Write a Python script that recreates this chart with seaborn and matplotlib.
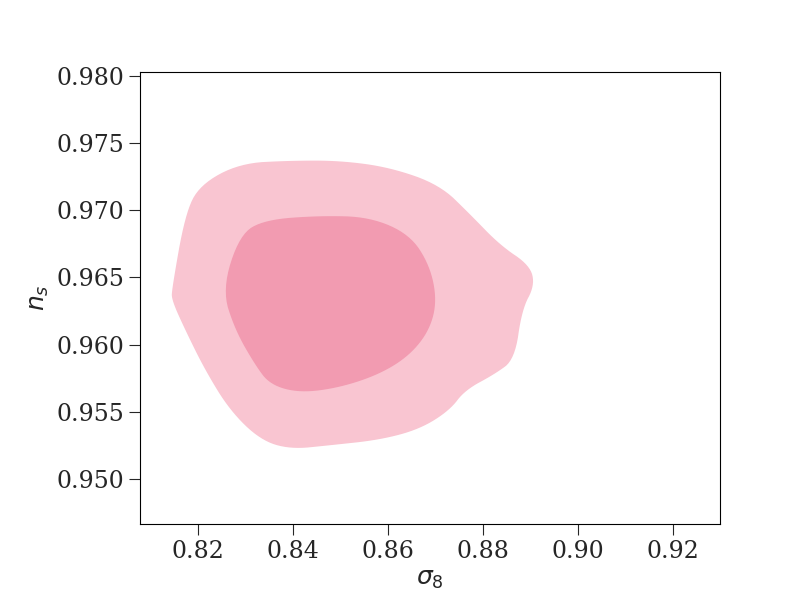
import numpy as np
import matplotlib
matplotlib.use("Agg")
import matplotlib.pyplot as plt
import seaborn as sns

# contour boundaries (sigma_8, n_s)
outer_sigma8 = [0.8145, 0.8173, 0.8204, 0.8288, 0.8394, 0.8499, 0.8604, 0.8709, 0.8773,
                0.8836, 0.8899, 0.8909, 0.8882, 0.8867, 0.8825, 0.8762, 0.8730, 0.8667,
                0.8583, 0.8478, 0.8394, 0.8331, 0.8267, 0.8215, 0.8173, 0.8145]
outer_ns = [0.9641, 0.9697, 0.9719, 0.9735, 0.9737, 0.9737, 0.9732, 0.9719, 0.9697,
            0.9674, 0.9659, 0.9644, 0.9626, 0.9589, 0.9578, 0.9566, 0.9551, 0.9537,
            0.9529, 0.9525, 0.9522, 0.9529, 0.9551, 0.9581, 0.9611, 0.9633]
inner_sigma8 = [0.8251, 0.8288, 0.8341, 0.8457, 0.8562, 0.8646, 0.8688, 0.8703,
                0.8688, 0.8646, 0.8583, 0.8499, 0.8415, 0.8352, 0.8320, 0.8278]
inner_ns = [0.9641, 0.9682, 0.9693, 0.9696, 0.9695, 0.9682, 0.9659, 0.9633,
            0.9611, 0.9592, 0.9578, 0.9568, 0.9564, 0.9570, 0.9585, 0.9611]


def smooth(x, y, n=3):
    # Chaikin corner cutting on a closed polygon
    pts = np.column_stack([x, y])
    for _ in range(n):
        nxt = np.roll(pts, -1, axis=0)
        q = 0.75 * pts + 0.25 * nxt
        r = 0.25 * pts + 0.75 * nxt
        pts = np.empty((2 * len(q), 2))
        pts[0::2], pts[1::2] = q, r
    return pts[:, 0], pts[:, 1]


sns.set_style("white")
plt.rcParams['font.family'] = ['DejaVu Serif']
fig, ax = plt.subplots(figsize=(8, 6), dpi=100)
fig.subplots_adjust(left=0.175, right=0.9, bottom=0.127, top=0.88)

ax.fill(*smooth(outer_sigma8, outer_ns), color='#f9c5d1', lw=0)
ax.fill(*smooth(inner_sigma8, inner_ns), color='#f29bb1', lw=0)

ax.set_xlim(0.8078, 0.9299)
ax.set_ylim(0.94665, 0.9803)
ax.set_xticks([0.82, 0.84, 0.86, 0.88, 0.90, 0.92])
ax.set_yticks([0.950, 0.955, 0.960, 0.965, 0.970, 0.975, 0.980])
ax.set_yticklabels([f'{v:.3f}' for v in ax.get_yticks()])
ax.set_xticklabels([f'{v:.2f}' for v in ax.get_xticks()])
ax.tick_params(direction='out', length=8, labelsize=17, left=True, bottom=True)
for s in ax.spines.values():
    s.set_color('black')
    s.set_linewidth(0.8)
ax.set_xlabel(r'$\sigma_8$', fontsize=18)
ax.set_ylabel(r'$n_s$', fontsize=18)

fig.savefig('out.png')
